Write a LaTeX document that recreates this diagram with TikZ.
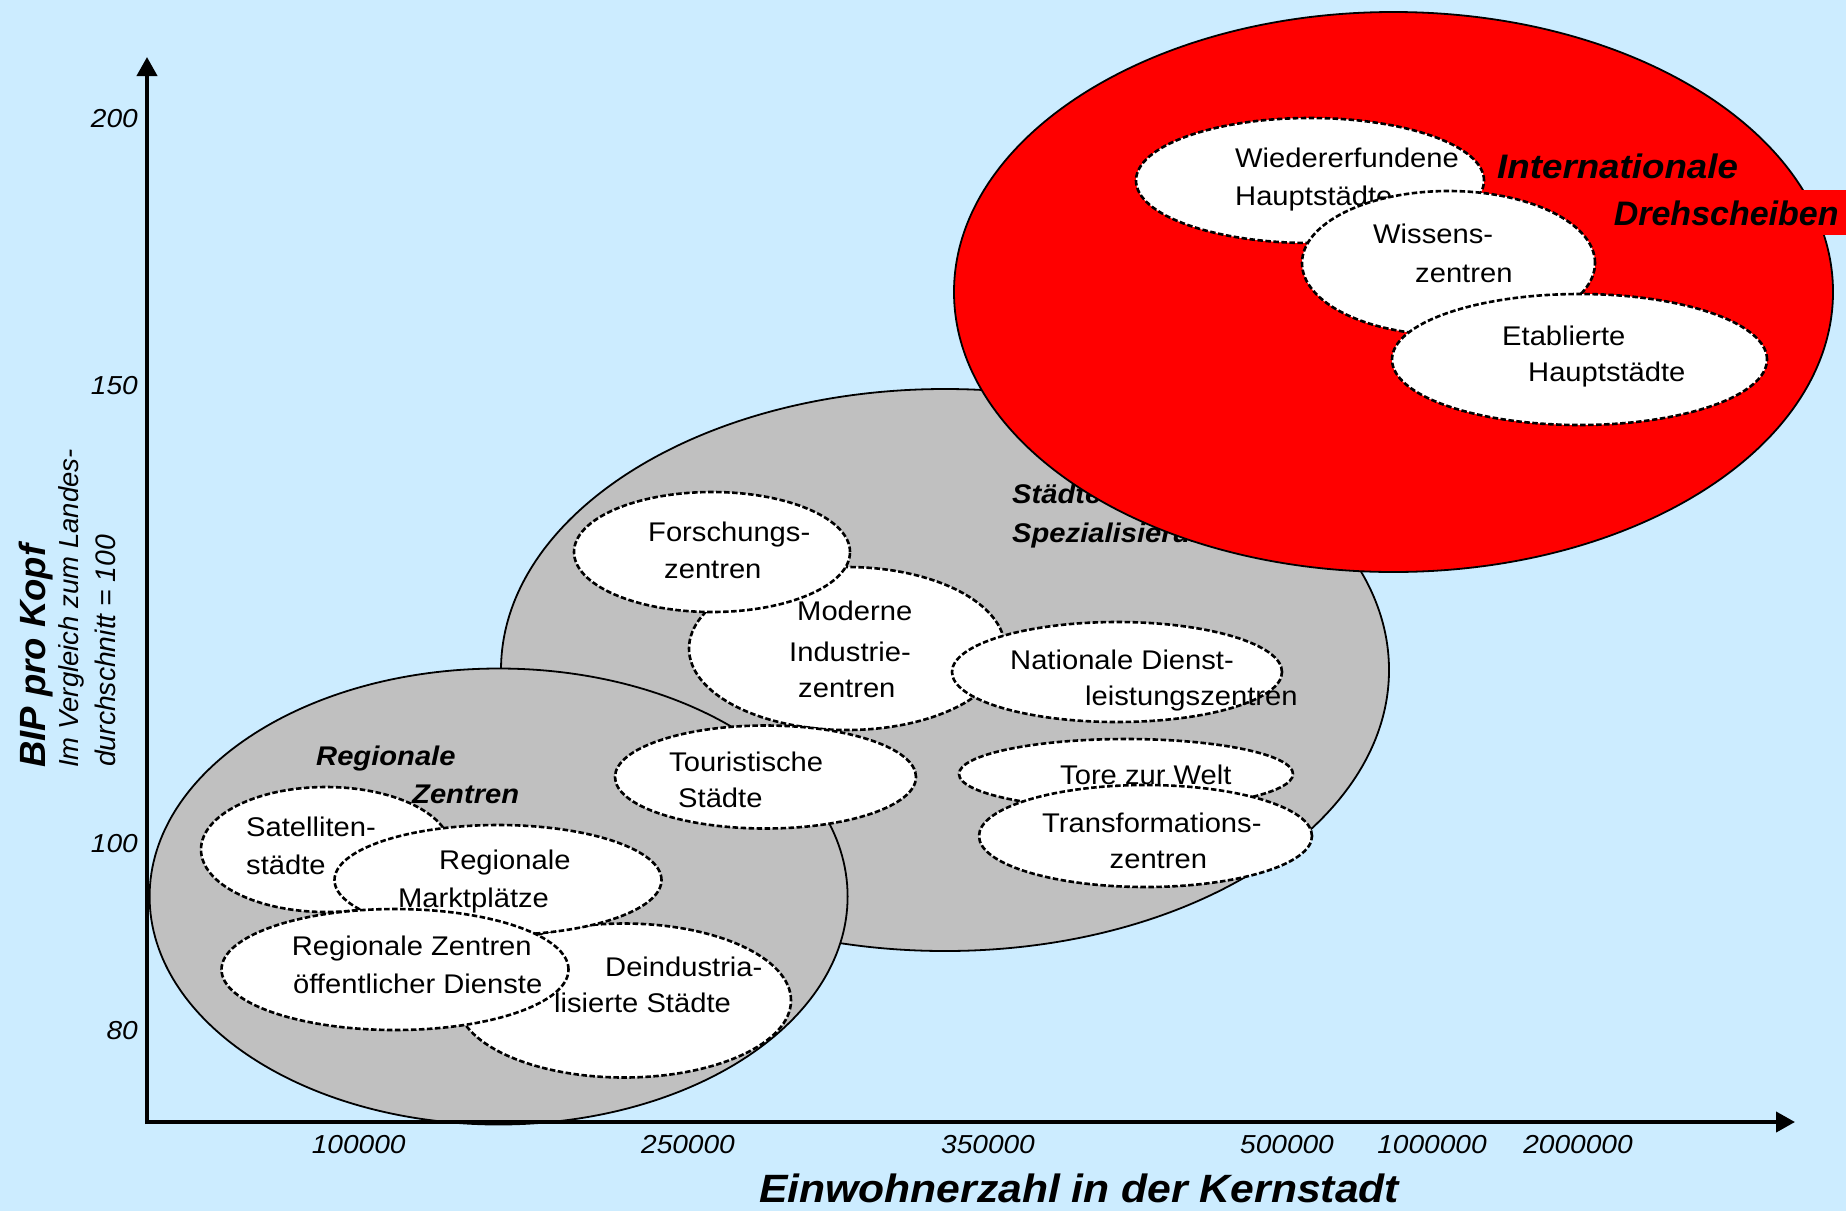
\documentclass[tikz,border=0pt]{standalone}
\usepackage{fontspec}
\setmainfont{Liberation Sans}[FakeStretch=1.08]
\newfontfamily\plainsans{Liberation Sans}
\usetikzlibrary{shapes.geometric,arrows.meta}
\definecolor{bg}{RGB}{204,236,255}
\definecolor{greyfill}{RGB}{192,192,192}
\definecolor{hubred}{RGB}{255,0,0}
\begin{document}
\begin{tikzpicture}[x=1pt,y=-1pt,
  bigell/.style={ellipse, draw=black, line width=1.8pt, inner sep=0pt, outer sep=0pt},
  whell/.style={ellipse, draw=black, fill=white, line width=2.6pt, dash pattern=on 5.5pt off 2.5pt, inner sep=0pt, outer sep=0pt},
  txt/.style={font=\fontsize{27}{32}\selectfont, inner sep=0pt, anchor=base west},
  btxt/.style={font=\fontsize{27}{32}\selectfont\bfseries\itshape, inner sep=0pt, anchor=base west},
  bigtxt/.style={font=\fontsize{34}{40}\selectfont\bfseries\itshape, inner sep=0pt, anchor=base west},
  tick/.style={font=\fontsize{26}{30}\selectfont\itshape, inner sep=0pt},
  axis/.style={line width=4pt, -{Triangle[length=19pt,width=20pt]}}
]
\fill[bg] (0,0) rectangle (1846,1211);
\useasboundingbox (0,0) rectangle (1846,1211);

% middle grey group
\node[bigell, fill=greyfill, minimum width=888pt, minimum height=562pt] (spez) at (945,670) {};
\node[btxt] (spezA) at (1012,503) {Städte mit};
\node[btxt] (spezB) at (1012,542) {Spezialisierung};

% lower-left grey group
\node[bigell, fill=greyfill, minimum width=698pt, minimum height=456pt] (reg) at (498.6,896.5) {};

% red group
\node[bigell, fill=hubred, minimum width=879pt, minimum height=560pt] (intl) at (1393.5,292) {};
\node[bigtxt, font=\plainsans\fontsize{34}{40}\selectfont\bfseries\itshape, fill=hubred, inner xsep=4pt, inner ysep=0pt, text height=35pt, text depth=10pt, minimum width=240pt] (intlB) at (1606,225) {Drehscheiben};
\node[bigtxt] (intlA) at (1497,178) {Internationale};

% white ellipses in the red group
\node[whell, minimum width=348pt, minimum height=125pt] (wied) at (1310,180.5) {};
\node[txt] (wiedA) at (1235,167.5) {Wiedererfundene};
\node[txt] (wiedB) at (1235,205) {Hauptstädte};
\node[whell, minimum width=293pt, minimum height=144pt] (wiss) at (1448.5,263) {};
\node[txt] (wissA) at (1373,243.5) {Wissens-};
\node[txt] (wissB) at (1415,282) {zentren};
\node[whell, minimum width=375pt, minimum height=131pt] (etab) at (1579.5,359.5) {};
\node[txt] (etabA) at (1502,345) {Etablierte};
\node[txt] (etabB) at (1528,381) {Hauptstädte};

% white ellipses in the middle group
\node[whell, minimum width=316pt, minimum height=163pt] (mod) at (847,648.5) {};
\node[txt] (modA) at (797,620.5) {Moderne};
\node[txt] (modB) at (789,661) {Industrie-};
\node[txt] (modC) at (798,697) {zentren};
\node[whell, minimum width=276pt, minimum height=120pt] (fors) at (712,552) {};
\node[txt] (forsA) at (648,541) {Forschungs-};
\node[txt] (forsB) at (664,578.5) {zentren};
\node[whell, minimum width=330pt, minimum height=100pt] (nat) at (1117,672) {};
\node[txt] (natA) at (1010,669) {Nationale Dienst-};
\node[txt] (natB) at (1085,705.5) {leistungszentren};
\node[whell, minimum width=301pt, minimum height=103pt] (tour) at (765.5,777) {};
\node[txt] (tourA) at (669,771.5) {Touristische};
\node[txt] (tourB) at (678,807) {Städte};
\node[whell, minimum width=334pt, minimum height=70pt] (tore) at (1126,774) {};
\node[txt] (toreA) at (1060,784) {Tore zur Welt};
\node[whell, minimum width=333pt, minimum height=102pt] (trans) at (1145.5,836) {};
\node[txt] (transA) at (1042,832.5) {Transformations-};
\node[txt] (transB) at (1109.5,868) {zentren};

% white ellipses in the lower-left group
\node[whell, minimum width=250pt, minimum height=125pt] (sat) at (326,849.5) {};
\node[txt] (satA) at (246,836.5) {Satelliten-};
\node[txt] (satB) at (246,874) {städte};
\node[whell, minimum width=334pt, minimum height=154pt] (dein) at (624,1000.5) {};
\node[txt] (deinA) at (605,976) {Deindustria-};
\node[txt] (deinB) at (554,1012.5) {lisierte Städte};
\node[whell, minimum width=327pt, minimum height=110pt] (markt) at (498,880) {};
\node[txt] (marktA) at (439,869.5) {Regionale};
\node[txt] (marktB) at (398,907.5) {Marktplätze};
\node[whell, minimum width=347pt, minimum height=121pt] (oeff) at (395,969.5) {};
\node[txt] (oeffA) at (291.6,955.5) {Regionale Zentren};
\node[txt] (oeffB) at (293,993.5) {öffentlicher Dienste};

\node[btxt] (regA) at (316,765) {Regionale};
\node[btxt] (regB) at (412,803) {Zentren};

% axes
\coordinate (O) at (147,1124);
\coordinate (O2) at (145,1122);
\coordinate (ytip) at (147,57);
\coordinate (xtip) at (1795,1122);
\draw[axis] (O) -- (ytip);
\draw[axis] (O2) -- (xtip);

% y ticks
\node[tick, anchor=base east] (y200) at (138,127) {200};
\node[tick, anchor=base east] (y150) at (138,394) {150};
\node[tick, anchor=base east] (y100) at (138,852) {100};
\node[tick, anchor=base east] (y80) at (138,1039) {80};

% x ticks
\node[tick, anchor=base] (x1) at (358.7,1153) {100000};
\node[tick, anchor=base] (x2) at (688,1153) {250000};
\node[tick, anchor=base] (x3) at (988,1153) {350000};
\node[tick, anchor=base] (x4) at (1287,1153) {500000};
\node[tick, anchor=base] (x5) at (1432,1153) {1000000};
\node[tick, anchor=base] (x6) at (1578,1153) {2000000};

% axis titles
\node[font=\fontsize{39.5}{46}\selectfont\bfseries\itshape, inner sep=0pt, anchor=base] (xtitle) at (1079,1202) {Einwohnerzahl in der Kernstadt};
\node[font=\plainsans\fontsize{36.5}{42}\selectfont\bfseries\itshape, inner sep=0pt, anchor=base west, rotate=90] (ytitle) at (45,768) {BIP pro Kopf};
\node[font=\plainsans\fontsize{27.5}{32}\selectfont\itshape, inner sep=0pt, anchor=base west, rotate=90] (ysubA) at (78,768) {Im Vergleich zum Landes-};
\node[font=\plainsans\fontsize{28.3}{32}\selectfont\itshape, inner sep=0pt, anchor=base west, rotate=90] (ysubB) at (115,767) {durchschnitt = 100};
\end{tikzpicture}
\end{document}
